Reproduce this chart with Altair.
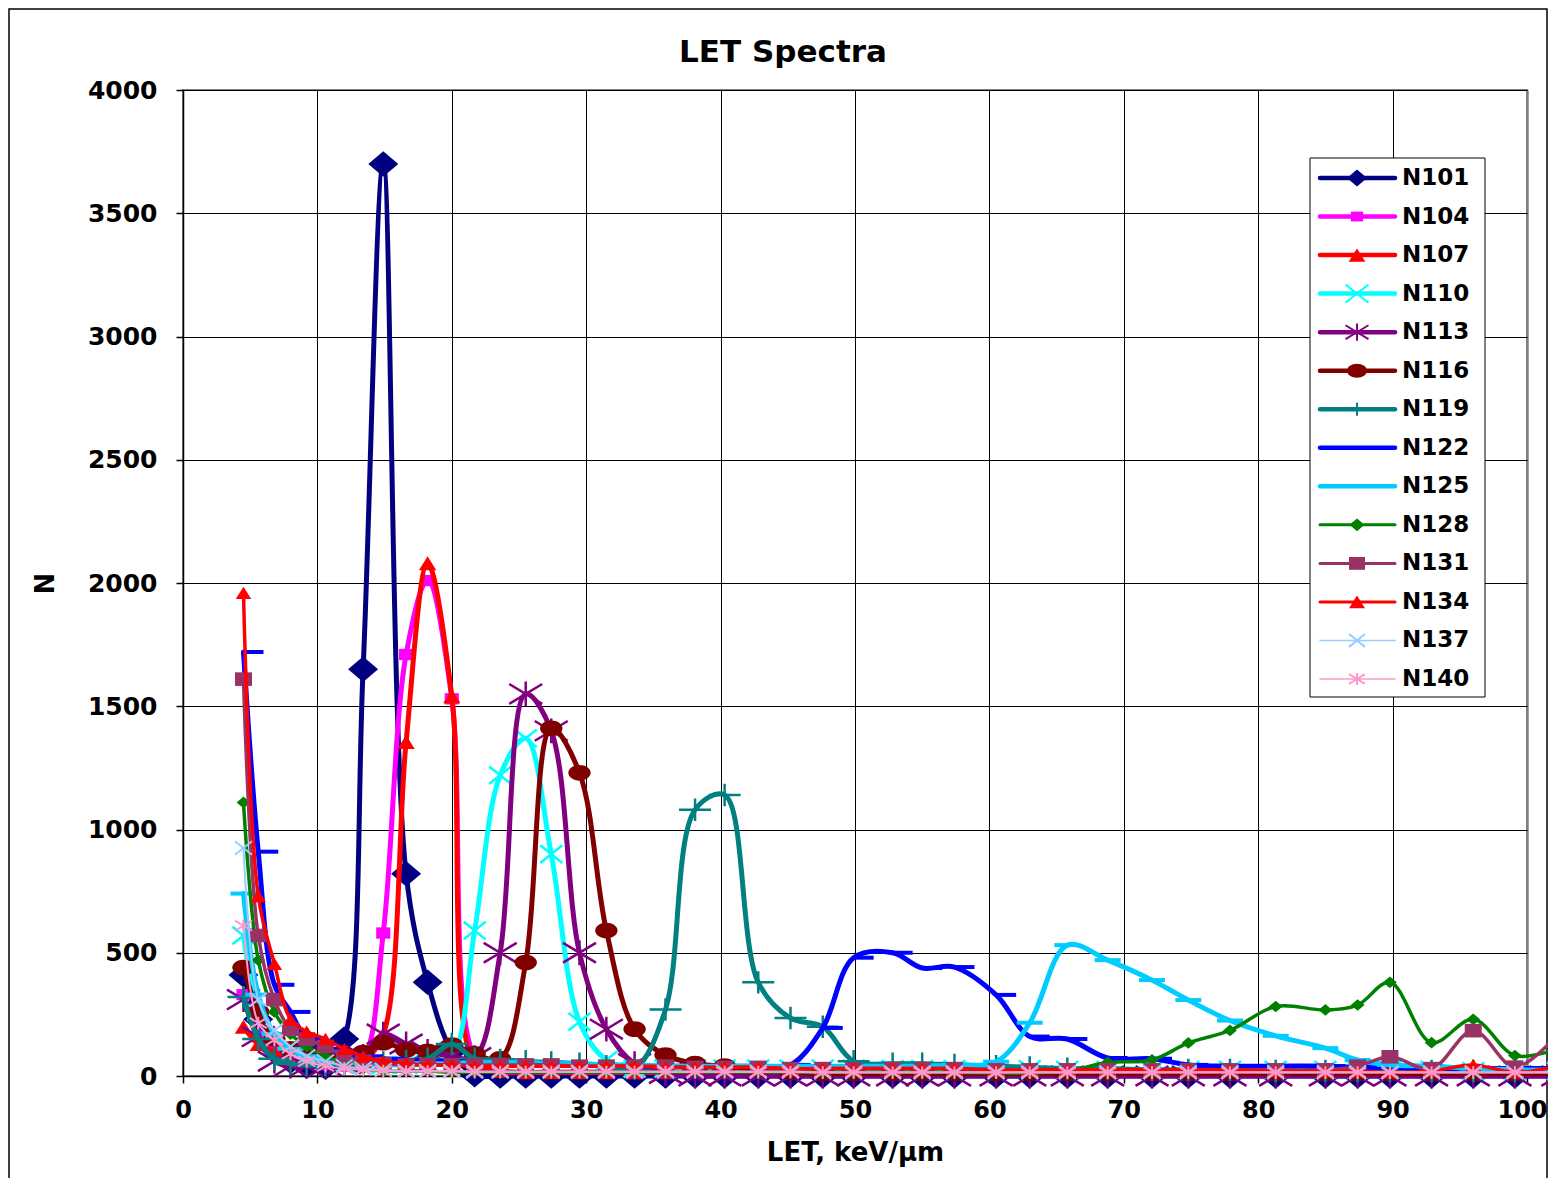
import altair as alt
import pandas as pd

# ---------------- data ----------------
LET = [4.5, 5.6, 6.8, 8.0, 9.2, 10.6, 12.0, 13.4, 14.9, 16.6, 18.2, 20.0, 21.7,
       23.6, 25.5, 27.4, 29.5, 31.5, 33.6, 35.9, 38.1, 40.3, 42.8, 45.2, 47.6,
       49.9, 52.8, 55.0, 57.4, 60.5, 63.0, 65.8, 68.8, 72.1, 74.8, 77.9, 81.3,
       85.0, 87.4, 89.8, 92.9, 96.0, 99.1, 102.3]

SERIES = ["N101", "N104", "N107", "N110", "N113", "N116", "N119",
          "N122", "N125", "N128", "N131", "N134", "N137", "N140"]

N101 = [410, 230, 110, 60, 40, 35, 150, 1650, 3700, 820, 380, 100, 5,
        0, 0, 0, 0, 0, 0, 0, 0, 0, 0, 0, 0, 0, 0, 0, 0, 0, 0,
        0, 0, 0, 0, 0, 0, 0, 0, 0, 0, 0, 0, 0]
N104 = [330, 160, 100, 70, 55, 45, 40, 70, 580, 1710, 2010, 1530, 80,
        20, 15, 15, 15, 15, 15, 15, 12, 12, 12, 12, 12, 12, 12, 12, 12, 12,
        10, 10, 10, 10, 10, 10, 10, 10, 10, 10, 10, 10, 10, 10]
N107 = [200, 130, 100, 90, 80, 75, 70, 65, 170, 1355, 2080, 1540, 50,
        20, 15, 15, 15, 15, 15, 15, 15, 15, 15, 15, 15, 15, 15, 15, 15, 15,
        15, 15, 12, 12, 12, 12, 12, 12, 12, 12, 12, 12, 12, 12]
N110 = [570, 260, 150, 100, 70, 60, 50, 45, 45, 45, 50, 80, 590,
        1220, 1370, 900, 220, 65, 30, 30, 30, 30, 30, 30, 30, 30, 28, 28, 28, 28,
        28, 25, 25, 25, 25, 25, 25, 25, 25, 25, 25, 20, 20, 20]
N113 = [310, 160, 60, 40, 40, 40, 50, 80, 170, 130, 100, 80, 75,
        500, 1550, 1400, 500, 190, 50, 10, 0, 0, 0, 0, 0, 0, 0, 0, 0, 0,
        0, 0, 0, 0, 0, 0, 0, 0, 0, 0, 0, 0, 0, 0]
N116 = [440, 260, 150, 110, 100, 90, 85, 95, 135, 105, 100, 125, 90,
        70, 460, 1410, 1230, 590, 190, 85, 50, 40, 25, 15, 10, 10, 10, 10, 10, 10,
        10, 10, 10, 10, 10, 10, 10, 10, 10, 10, 10, 10, 10, 10]
N119 = [320, 150, 70, 50, 45, 45, 45, 50, 55, 60, 70, 130, 70,
        65, 60, 55, 50, 40, 30, 270, 1080, 1140, 380, 235, 200, 60, 50, 50, 45, 40,
        35, 30, 30, 25, 25, 25, 20, 20, 20, 20, 20, 20, 20, 20]
N122 = [1720, 910, 370, 260, 150, 110, 90, 80, 70, 65, 60, 60, 55,
        50, 50, 45, 45, 45, 40, 40, 40, 40, 40, 45, 195, 480, 500, 438, 442, 329,
        160, 150, 73, 70, 45, 40, 40, 40, 35, 35, 30, 30, 30, 30]
N125 = [740, 330, 170, 110, 80, 65, 55, 50, 50, 50, 50, 50, 55,
        55, 55, 50, 50, 45, 45, 40, 40, 40, 40, 40, 40, 40, 40, 40, 45, 58,
        216, 531, 470, 389, 308, 225, 163, 113, 65, 45, 40, 30, 25, 25]
N128 = [1110, 470, 260, 170, 120, 80, 50, 30, 20, 20, 20, 15, 15,
        15, 15, 15, 15, 15, 15, 15, 15, 15, 15, 15, 15, 15, 15, 15, 15, 12,
        12, 20, 55, 65, 134, 185, 282, 268, 288, 380, 135, 230, 83, 110]
N131 = [1610, 570, 310, 190, 150, 120, 80, 60, 50, 45, 45, 45, 45,
        45, 45, 45, 40, 40, 40, 40, 35, 35, 35, 30, 30, 30, 30, 30, 30, 25,
        25, 25, 25, 25, 25, 25, 25, 25, 40, 78, 30, 184, 36, 170]
N134 = [1960, 730, 455, 230, 180, 150, 110, 80, 60, 50, 45, 45, 40,
        40, 40, 40, 40, 40, 40, 35, 35, 35, 35, 30, 30, 30, 30, 30, 30, 25,
        25, 25, 25, 25, 25, 25, 20, 20, 20, 15, 20, 45, 15, 40]
N137 = [925, 310, 185, 120, 80, 60, 40, 30, 25, 20, 20, 20, 18,
        18, 18, 18, 18, 18, 18, 18, 18, 18, 18, 18, 15, 15, 15, 15, 15, 15,
        15, 15, 15, 15, 15, 15, 15, 15, 15, 15, 15, 15, 15, 15]
N140 = [610, 215, 146, 90, 60, 40, 30, 25, 20, 18, 18, 18, 16,
        16, 16, 16, 16, 16, 16, 16, 16, 16, 16, 16, 14, 14, 14, 14, 14, 14,
        14, 14, 14, 14, 14, 14, 14, 14, 14, 14, 14, 14, 14, 14]

VALUES = {"N101": N101, "N104": N104, "N107": N107, "N110": N110, "N113": N113,
          "N116": N116, "N119": N119, "N122": N122, "N125": N125, "N128": N128,
          "N131": N131, "N134": N134, "N137": N137, "N140": N140}

TITLE = "LET Spectra"
X_TICKS = [0, 10, 20, 30, 40, 50, 60, 70, 80, 90, 100]
Y_TICKS = [0, 500, 1000, 1500, 2000, 2500, 3000, 3500, 4000]

for k, v in VALUES.items():
    assert len(v) == len(LET), (k, len(v))

# ---------------- styles ----------------
FONT = "DejaVu Sans"
DIAMOND = "M-1,0L0,-0.85L1,0L0,0.85Z"
SQUARE = "M-1,-0.8L1,-0.8L1,0.8L-1,0.8Z"
TRIANGLE = "M0,-0.8L1,0.8L-1,0.8Z"
XMARK = "M-1,-0.8L1,0.8M-1,0.8L1,-0.8"
STAR = "M-1,-0.6L1,0.6M-1,0.6L1,-0.6M0,-0.75L0,0.75"
ELLIPSE = "M-1,0A1,0.7,0,1,1,1,0A1,0.7,0,1,1,-1,0Z"
PLUS = "M-1,0L1,0M0,-0.7L0,0.7"
DASH_R = "M0,0L2,0"
DASH_C = "M-1,0L1,0"

STYLE = {
    "N101": dict(color="#000080", width=5, shape=DIAMOND, filled=True, size=900, mw=1, lsize=400),
    "N104": dict(color="#FF00FF", width=5, shape=SQUARE, filled=True, size=200, mw=1, lsize=150),
    "N107": dict(color="#FF0000", width=5, shape=TRIANGLE, filled=True, size=300, mw=1, lsize=280),
    "N110": dict(color="#00FFFF", width=5, shape=XMARK, filled=False, size=484, mw=2.5, lsize=529),
    "N113": dict(color="#800080", width=5, shape=STAR, filled=False, size=1089, mw=2.5, lsize=529),
    "N116": dict(color="#800000", width=5, shape=ELLIPSE, filled=True, size=500, mw=1, lsize=400),
    "N119": dict(color="#008080", width=5, shape=PLUS, filled=False, size=1024, mw=2.5, lsize=345),
    "N122": dict(color="#0000FF", width=5, shape=DASH_R, filled=False, size=400, mw=4, lsize=200),
    "N125": dict(color="#00CCFF", width=5, shape=DASH_C, filled=False, size=676, mw=4, lsize=200),
    "N128": dict(color="#008000", width=3.5, shape=DIAMOND, filled=True, size=190, mw=1, lsize=225),
    "N131": dict(color="#993366", width=3.5, shape=SQUARE, filled=True, size=289, mw=1, lsize=256),
    "N134": dict(color="#FF0000", width=3.5, shape=TRIANGLE, filled=True, size=240, mw=1, lsize=256),
    "N137": dict(color="#99CCFF", width=2, shape=XMARK, filled=False, size=289, mw=2, lsize=256),
    "N140": dict(color="#FF99CC", width=2, shape=STAR, filled=False, size=289, mw=2, lsize=256),
}

W, H = 1344, 986
PAD = {"left": 175, "top": 82, "right": 21, "bottom": 102}

x_enc = alt.X(
    "LET:Q",
    scale=alt.Scale(domain=[0, 100], nice=False, zero=False),
    axis=alt.Axis(
        values=X_TICKS, title="LET, keV/μm", format="d", labelFlush=False,
        labelFontSize=24,
        labelOffset=alt.condition("datum.value == 100", alt.value(-5), alt.value(0)),
        tickSize=7, labelPadding=15, titlePadding=17,
        gridColor=alt.condition("datum.value == 100", alt.value("#808080"), alt.value("#000000")),
        gridWidth=alt.condition("datum.value == 100", alt.value(2.5), alt.value(1)),
    ),
)
y_enc = alt.Y(
    "N:Q",
    scale=alt.Scale(domain=[0, 4000], nice=False),
    axis=alt.Axis(values=Y_TICKS, title="N", format="d", labelFlush=False,
                  tickSize=7, labelPadding=19, titlePadding=29),
)

one = pd.DataFrame({"k": [0]})
layers = []

# chart-area border (Excel style frame around the whole chart)
frame = alt.Chart(one).mark_rect(
    fill=None, stroke="#000000", strokeWidth=1.5
).encode(
    x=alt.value(-PAD["left"] + 1), x2=alt.value(W + PAD["right"] - 1),
    y=alt.value(-PAD["top"] + 1), y2=alt.value(H + PAD["bottom"] + 40),
)
layers.append(frame)

# chart title, centred on the whole chart area
title = alt.Chart(one).mark_text(
    text=TITLE, align="center", baseline="alphabetic", font=FONT, fontSize=31,
    fontWeight="bold", color="#000000",
).encode(x=alt.value(600), y=alt.value(-28))
layers.append(title)

for name in SERIES:
    st = STYLE[name]
    df = pd.DataFrame({"LET": LET, "N": VALUES[name], "series": name})
    line = alt.Chart(df).mark_line(
        interpolate="catmull-rom", color=st["color"], strokeWidth=st["width"],
        strokeJoin="round", strokeCap="round",
    ).encode(x=x_enc, y=y_enc)
    if st["filled"]:
        pts = alt.Chart(df).mark_point(
            shape=st["shape"], filled=True, size=st["size"], color=st["color"], opacity=1,
        ).encode(x=x_enc, y=y_enc)
    else:
        pts = alt.Chart(df).mark_point(
            shape=st["shape"], filled=False, size=st["size"], color=st["color"],
            opacity=1, strokeWidth=st["mw"],
        ).encode(x=x_enc, y=y_enc)
    layers += [line, pts]

# ---------------- legend (drawn inside the plot, Excel style) ----------------
LEG_X0, LEG_X1, LEG_Y0, LEG_Y1 = 1127, 1302, 68, 607
box = alt.Chart(one).mark_rect(
    fill="white", stroke="#000000", strokeWidth=1
).encode(x=alt.value(LEG_X0), x2=alt.value(LEG_X1), y=alt.value(LEG_Y0), y2=alt.value(LEG_Y1))
layers.append(box)

for i, name in enumerate(SERIES):
    st = STYLE[name]
    yy = 88 + i * 38.54
    d1 = pd.DataFrame({"series": [name]})
    seg = alt.Chart(d1).mark_rule(
        color=st["color"], strokeWidth=max(st["width"] - 0.5, 1.5), strokeCap="round"
    ).encode(x=alt.value(1137), x2=alt.value(1212), y=alt.value(yy))
    if st["filled"]:
        mk = alt.Chart(d1).mark_point(
            shape=st["shape"], filled=True, size=st["lsize"], color=st["color"], opacity=1
        ).encode(x=alt.value(1174), y=alt.value(yy))
    else:
        mk = alt.Chart(d1).mark_point(
            shape=st["shape"], filled=False, size=st["lsize"], color=st["color"],
            opacity=1, strokeWidth=min(st["mw"], 2),
        ).encode(x=alt.value(1174), y=alt.value(yy))
    txt = alt.Chart(d1).mark_text(
        text=name, align="left", baseline="middle", font=FONT, fontSize=23,
        fontWeight="bold", color="#000000",
    ).encode(x=alt.value(1219), y=alt.value(yy))
    layers += [seg, mk, txt]

chart = alt.layer(*layers).properties(
    width=W,
    height=H,
    autosize=alt.AutoSizeParams(type="none"),
    padding=PAD,
).configure(
    background="white"
).configure_view(
    stroke="#808080", strokeWidth=2
).configure_axis(
    grid=True, gridColor="#000000", gridOpacity=1,
    domainColor="#000000", domainWidth=1.5, tickColor="#000000", tickWidth=1.5,
    labelFont=FONT, labelFontSize=25, labelFontWeight="bold", labelColor="#000000",
    titleFont=FONT, titleFontSize=26, titleFontWeight="bold", titleColor="#000000",
)

chart.save("out.html", embed_options={"renderer": "svg", "actions": False})
